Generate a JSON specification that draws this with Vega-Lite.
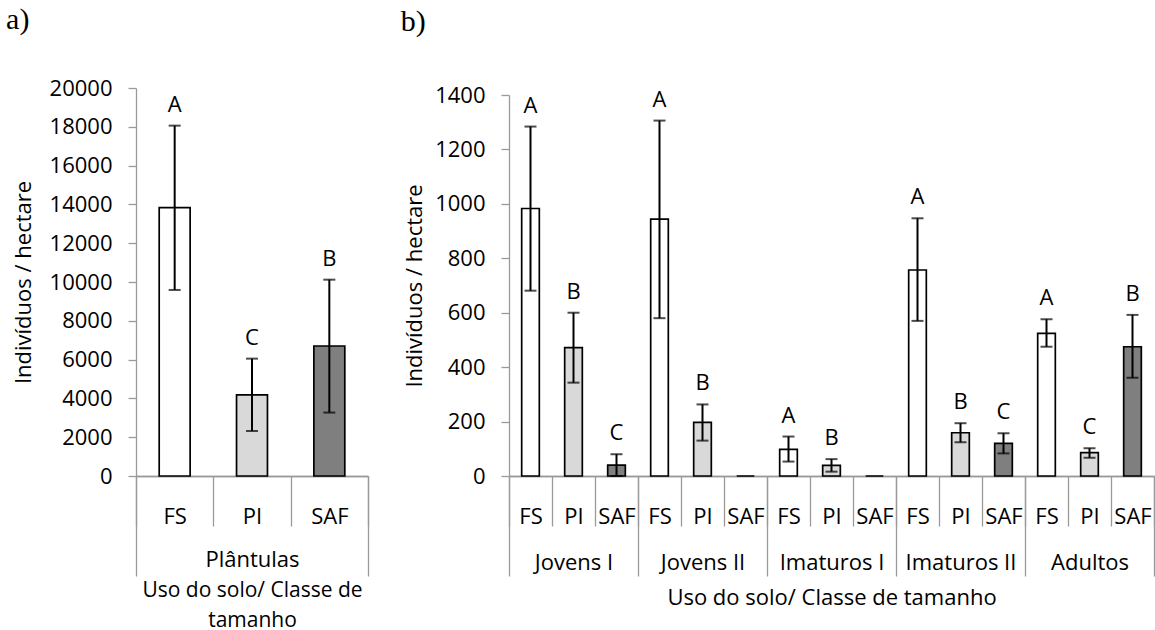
{
  "$schema": "https://vega.github.io/schema/vega-lite/v6.json",
  "padding": {"left": 6, "top": 5, "right": 0, "bottom": 0},
  "background": "white",
  "bounds": "flush",
  "config": {
    "font": "Open Sans",
    "view": {"stroke": null},
    "axis": {
      "labelFont": "Open Sans",
      "labelFontSize": 22,
      "labelColor": "#000000",
      "titleFont": "Open Sans",
      "titleFontSize": 22,
      "titleFontWeight": "normal",
      "titleColor": "#000000",
      "domainColor": "#9a9a9a",
      "domainWidth": 1.3,
      "tickColor": "#9a9a9a",
      "tickWidth": 1.3,
      "grid": false
    },
    "title": {"font": "Liberation Serif", "fontSize": 30, "fontWeight": "normal", "anchor": "start", "frame": "bounds", "color": "#000000"}
  },
  "datasets": {
    "plantulas": [
      {"chave": "Plântulas|FS", "uso": "FS", "media": 13830, "inf": 9590, "sup": 18060, "letra": "A"},
      {"chave": "Plântulas|PI", "uso": "PI", "media": 4180, "inf": 2320, "sup": 6050, "letra": "C"},
      {"chave": "Plântulas|SAF", "uso": "SAF", "media": 6700, "inf": 3270, "sup": 10120, "letra": "B"}
    ],
    "classes": [
      {"chave": "Jovens I|FS", "uso": "FS", "media": 983, "inf": 681, "sup": 1284, "letra": "A"},
      {"chave": "Jovens I|PI", "uso": "PI", "media": 472, "inf": 343, "sup": 600, "letra": "B"},
      {"chave": "Jovens I|SAF", "uso": "SAF", "media": 40, "inf": 0, "sup": 80, "letra": "C"},
      {"chave": "Jovens II|FS", "uso": "FS", "media": 944, "inf": 580, "sup": 1306, "letra": "A"},
      {"chave": "Jovens II|PI", "uso": "PI", "media": 197, "inf": 130, "sup": 263, "letra": "B"},
      {"chave": "Jovens II|SAF", "uso": "SAF", "media": 0, "inf": null, "sup": null, "letra": null},
      {"chave": "Imaturos I|FS", "uso": "FS", "media": 98, "inf": 53, "sup": 145, "letra": "A"},
      {"chave": "Imaturos I|PI", "uso": "PI", "media": 39, "inf": 16, "sup": 62, "letra": "B"},
      {"chave": "Imaturos I|SAF", "uso": "SAF", "media": 0, "inf": null, "sup": null, "letra": null},
      {"chave": "Imaturos II|FS", "uso": "FS", "media": 757, "inf": 570, "sup": 947, "letra": "A"},
      {"chave": "Imaturos II|PI", "uso": "PI", "media": 159, "inf": 124, "sup": 194, "letra": "B"},
      {"chave": "Imaturos II|SAF", "uso": "SAF", "media": 120, "inf": 83, "sup": 157, "letra": "C"},
      {"chave": "Adultos|FS", "uso": "FS", "media": 524, "inf": 475, "sup": 576, "letra": "A"},
      {"chave": "Adultos|PI", "uso": "PI", "media": 86, "inf": 67, "sup": 102, "letra": "C"},
      {"chave": "Adultos|SAF", "uso": "SAF", "media": 475, "inf": 361, "sup": 592, "letra": "B"}
    ]
  },
  "spacing": 141,
  "hconcat": [
    {
      "title": {"text": "a)", "offset": 42, "dx": -6},
      "width": 232,
      "height": 388,
      "data": {"name": "plantulas"},
      "encoding": {
        "x": {"field": "chave", "type": "nominal", "sort": null, "scale": {"paddingInner": 0, "paddingOuter": 0}}
      },
      "layer": [
        {
          "mark": {"type": "bar", "width": {"band": 0.4}, "stroke": "#000000", "strokeWidth": 1.7},
          "encoding": {
            "x": {"field": "chave", "type": "nominal", "sort": null, "axis": {
              "orient": "bottom", "title": null, "labelAngle": 0, "labelOverlap": false,
              "labelExpr": "split(datum.value, '|')[1]",
              "tickBand": "extent", "tickSize": 50, "labelBaseline": "middle", "labelPadding": -10
            }},
            "y": {"field": "media", "type": "quantitative", "title": "Indivíduos / hectare",
              "scale": {"domain": [0, 20000], "nice": false},
              "axis": {"values": [0, 2000, 4000, 6000, 8000, 10000, 12000, 14000, 16000, 18000, 20000], "format": "d", "tickSize": 8, "labelPadding": 16, "titlePadding": 14, "labelOverlap": false}},
            "color": {"field": "uso", "type": "nominal", "legend": null,
              "scale": {"domain": ["FS", "PI", "SAF"], "range": ["#ffffff", "#d9d9d9", "#7f7f7f"]}}
          }
        },
        {
          "transform": [{"filter": "isValid(datum.letra)"}],
          "mark": {"type": "rule", "color": "#000000", "strokeWidth": 2},
          "encoding": {
            "x": {"field": "chave", "type": "nominal", "sort": null, "axis": null},
            "y": {"field": "inf", "type": "quantitative", "title": "Indivíduos / hectare",
              "axis": {"values": [0, 2000, 4000, 6000, 8000, 10000, 12000, 14000, 16000, 18000, 20000], "format": "d", "tickSize": 8, "labelPadding": 16, "titlePadding": 14, "labelOverlap": false}},
            "y2": {"field": "sup"}
          }
        },
        {
          "transform": [{"filter": "isValid(datum.letra)"}],
          "mark": {"type": "tick", "color": "#000000", "size": 12, "thickness": 2, "orient": "horizontal"},
          "encoding": {
            "x": {"field": "chave", "type": "nominal", "sort": null, "axis": null},
            "y": {"field": "inf", "type": "quantitative", "title": "Indivíduos / hectare",
              "axis": {"values": [0, 2000, 4000, 6000, 8000, 10000, 12000, 14000, 16000, 18000, 20000], "format": "d", "tickSize": 8, "labelPadding": 16, "titlePadding": 14, "labelOverlap": false}}
          }
        },
        {
          "transform": [{"filter": "isValid(datum.letra)"}],
          "mark": {"type": "tick", "color": "#000000", "size": 12, "thickness": 2, "orient": "horizontal"},
          "encoding": {
            "x": {"field": "chave", "type": "nominal", "sort": null, "axis": null},
            "y": {"field": "sup", "type": "quantitative", "title": "Indivíduos / hectare",
              "axis": {"values": [0, 2000, 4000, 6000, 8000, 10000, 12000, 14000, 16000, 18000, 20000], "format": "d", "tickSize": 8, "labelPadding": 16, "titlePadding": 14, "labelOverlap": false}}
          }
        },
        {
          "transform": [{"filter": "isValid(datum.letra)"}],
          "mark": {"type": "text", "fontSize": 22, "dy": -21, "color": "#000000", "font": "Open Sans"},
          "encoding": {
            "x": {"field": "chave", "type": "nominal", "sort": null, "axis": {
              "orient": "bottom", "labelAngle": 0, "labelOverlap": false,
              "labelExpr": "split(datum.value, '|')[1] == 'PI' ? split(datum.value, '|')[0] : ''",
              "tickBand": "extent", "tickSize": 100, "labelBaseline": "middle", "labelPadding": -17,
              "tickOpacity": {"condition": {"test": "isValid(datum.value) && indexof(datum.value, '|SAF') < 0", "value": 0}, "value": 1},
              "title": ["Uso do solo/ Classe de", "tamanho"], "titleFontSize": 21, "titleLineHeight": 30, "titlePadding": 3
            }},
            "y": {"field": "sup", "type": "quantitative", "title": "Indivíduos / hectare",
              "axis": {"values": [0, 2000, 4000, 6000, 8000, 10000, 12000, 14000, 16000, 18000, 20000], "format": "d", "tickSize": 8, "labelPadding": 16, "titlePadding": 14, "labelOverlap": false}},
            "text": {"field": "letra"}
          }
        }
      ],
      "resolve": {"axis": {"x": "independent"}}
    },
    {
      "title": {"text": "b)", "offset": 47, "dx": -3},
      "width": 645,
      "height": 388,
      "data": {"name": "classes"},
      "encoding": {
        "x": {"field": "chave", "type": "nominal", "sort": null, "scale": {"paddingInner": 0, "paddingOuter": 0}}
      },
      "layer": [
        {
          "mark": {"type": "bar", "width": {"band": 0.41}, "stroke": "#000000", "strokeWidth": 1.7},
          "encoding": {
            "x": {"field": "chave", "type": "nominal", "sort": null, "axis": {
              "orient": "bottom", "title": null, "labelAngle": 0, "labelOverlap": false,
              "labelExpr": "split(datum.value, '|')[1]",
              "tickBand": "extent", "tickSize": 50, "labelBaseline": "middle", "labelPadding": -10
            }},
            "y": {"field": "media", "type": "quantitative", "title": "Indivíduos / hectare",
              "scale": {"domain": [0, 1400], "nice": false, "range": [388, 7]},
              "axis": {"values": [0, 200, 400, 600, 800, 1000, 1200, 1400], "format": "d", "tickSize": 8, "labelPadding": 16, "titlePadding": 8, "labelOverlap": false}},
            "color": {"field": "uso", "type": "nominal", "legend": null,
              "scale": {"domain": ["FS", "PI", "SAF"], "range": ["#ffffff", "#d9d9d9", "#7f7f7f"]}}
          }
        },
        {
          "transform": [{"filter": "isValid(datum.letra)"}],
          "mark": {"type": "rule", "color": "#000000", "strokeWidth": 2},
          "encoding": {
            "x": {"field": "chave", "type": "nominal", "sort": null, "axis": null},
            "y": {"field": "inf", "type": "quantitative", "title": "Indivíduos / hectare",
              "axis": {"values": [0, 200, 400, 600, 800, 1000, 1200, 1400], "format": "d", "tickSize": 8, "labelPadding": 16, "titlePadding": 8, "labelOverlap": false}},
            "y2": {"field": "sup"}
          }
        },
        {
          "transform": [{"filter": "isValid(datum.letra)"}],
          "mark": {"type": "tick", "color": "#000000", "size": 12, "thickness": 2, "orient": "horizontal"},
          "encoding": {
            "x": {"field": "chave", "type": "nominal", "sort": null, "axis": null},
            "y": {"field": "inf", "type": "quantitative", "title": "Indivíduos / hectare",
              "axis": {"values": [0, 200, 400, 600, 800, 1000, 1200, 1400], "format": "d", "tickSize": 8, "labelPadding": 16, "titlePadding": 8, "labelOverlap": false}}
          }
        },
        {
          "transform": [{"filter": "isValid(datum.letra)"}],
          "mark": {"type": "tick", "color": "#000000", "size": 12, "thickness": 2, "orient": "horizontal"},
          "encoding": {
            "x": {"field": "chave", "type": "nominal", "sort": null, "axis": null},
            "y": {"field": "sup", "type": "quantitative", "title": "Indivíduos / hectare",
              "axis": {"values": [0, 200, 400, 600, 800, 1000, 1200, 1400], "format": "d", "tickSize": 8, "labelPadding": 16, "titlePadding": 8, "labelOverlap": false}}
          }
        },
        {
          "transform": [{"filter": "isValid(datum.letra)"}],
          "mark": {"type": "text", "fontSize": 22, "dy": -21, "color": "#000000", "font": "Open Sans"},
          "encoding": {
            "x": {"field": "chave", "type": "nominal", "sort": null, "axis": {
              "orient": "bottom", "labelAngle": 0, "labelOverlap": false,
              "labelExpr": "split(datum.value, '|')[1] == 'PI' ? split(datum.value, '|')[0] : ''",
              "tickBand": "extent", "tickSize": 100, "labelBaseline": "middle", "labelPadding": -14,
              "tickOpacity": {"condition": {"test": "isValid(datum.value) && indexof(datum.value, '|SAF') < 0", "value": 0}, "value": 1},
              "title": "Uso do solo/ Classe de tamanho", "titlePadding": 11
            }},
            "y": {"field": "sup", "type": "quantitative", "title": "Indivíduos / hectare",
              "axis": {"values": [0, 200, 400, 600, 800, 1000, 1200, 1400], "format": "d", "tickSize": 8, "labelPadding": 16, "titlePadding": 8, "labelOverlap": false}},
            "text": {"field": "letra"}
          }
        }
      ],
      "resolve": {"axis": {"x": "independent"}}
    }
  ]
}
